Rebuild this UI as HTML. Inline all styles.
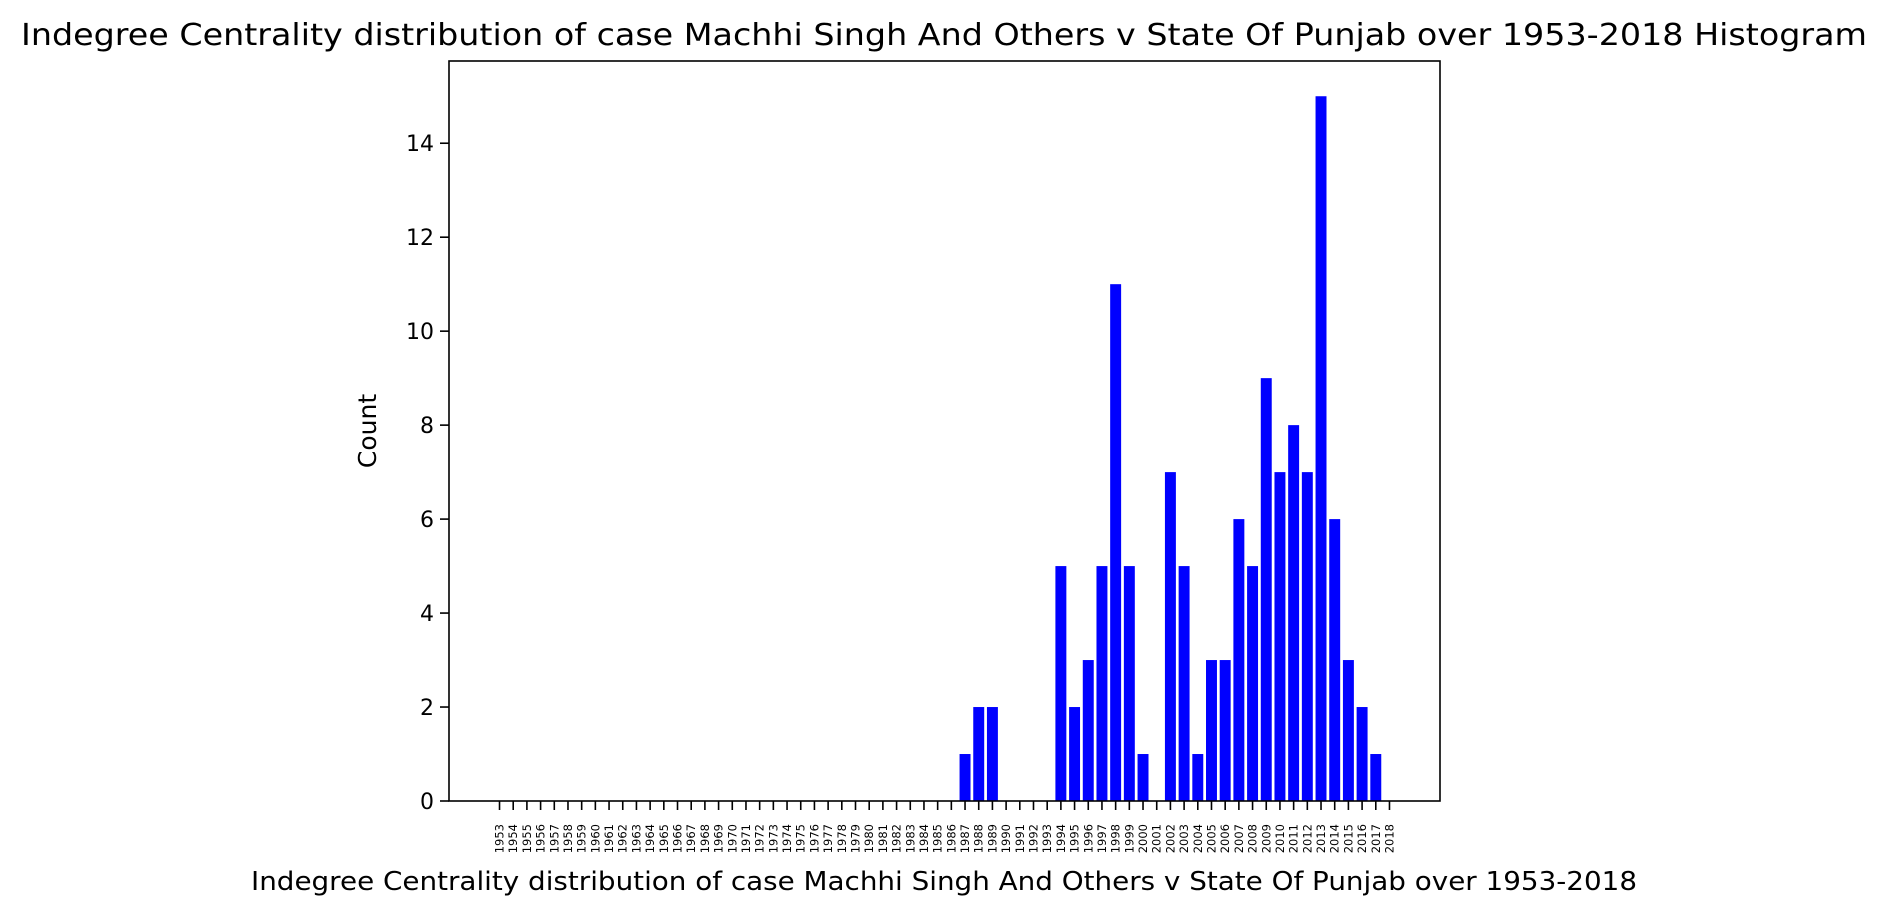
<!DOCTYPE html>
<html><head><meta charset="utf-8"><style>
body{margin:0;background:#fff;}
svg{display:block;font-family:"DejaVu Sans","Liberation Sans",sans-serif;}
</style></head><body>
<svg id="chart" width="1889" height="915" viewBox="0 0 1889 915" xmlns="http://www.w3.org/2000/svg">
<text x="944" y="45" font-size="30" text-anchor="middle" textLength="1846" lengthAdjust="spacingAndGlyphs">Indegree Centrality distribution of case Machhi Singh And Others v State Of Punjab over 1953-2018 Histogram</text>
<text x="944" y="890" font-size="26" text-anchor="middle" textLength="1386" lengthAdjust="spacingAndGlyphs">Indegree Centrality distribution of case Machhi Singh And Others v State Of Punjab over 1953-2018</text>
<text x="0" y="0" font-size="25" text-anchor="middle" transform="translate(376,431) rotate(-90)">Count</text>
<g id="bars"></g><g id="xticks"></g><g id="yticks"></g>
<rect x="449" y="61" width="991" height="740" fill="none" stroke="#000" stroke-width="1.6"/>
</svg>
<script>
const years = [];
for (let y = 1953; y <= 2018; y++) years.push(String(y));
const counts = [0,0,0,0,0,0,0,0,0,0,0,0,0,0,0,0,0,0,0,0,0,0,0,0,0,0,0,0,0,0,0,0,0,0,1,2,2,0,0,0,0,5,2,3,5,11,5,1,0,7,5,1,3,3,6,5,9,7,8,7,15,6,3,2,1,0];
const yTicks = [0,2,4,6,8,10,12,14];
const L=449,R=1440,T=61,B=801;
const xmin=-3.69,xmax=68.69,ymax=15.75;
const xs=i=>L+(i-xmin)/(xmax-xmin)*(R-L);
const ys=v=>B-v/ymax*(B-T);
const NS="http://www.w3.org/2000/svg";
const bw=(xs(0.8)-xs(0));
const gb=document.getElementById('bars'),gx=document.getElementById('xticks'),gy=document.getElementById('yticks');
counts.forEach((c,i)=>{
  if(c>0){
  const r=document.createElementNS(NS,'rect');
  
  
  r.setAttribute('x',xs(i)-bw/2);r.setAttribute('width',bw);
  r.setAttribute('y',ys(c));r.setAttribute('height',ys(0)-ys(c));
  r.setAttribute('fill','#0000ff');gb.appendChild(r);}
  const t=document.createElementNS(NS,'line');
  
  
  t.setAttribute('x1',xs(i));t.setAttribute('x2',xs(i));t.setAttribute('y1',B);t.setAttribute('y2',B+9);
  t.setAttribute('stroke','#000');t.setAttribute('stroke-width','1.6');gx.appendChild(t);
  const tx=document.createElementNS(NS,'text');
  
  
  tx.setAttribute('font-size','11.5');tx.setAttribute('text-anchor','end');
  tx.setAttribute('transform','translate('+(xs(i)+4)+',824) rotate(-90)');
  tx.textContent=years[i];gx.appendChild(tx);
});
yTicks.forEach(v=>{
  const t=document.createElementNS(NS,'line');
  
  
  t.setAttribute('x1',L-9);t.setAttribute('x2',L);t.setAttribute('y1',ys(v));t.setAttribute('y2',ys(v));
  t.setAttribute('stroke','#000');t.setAttribute('stroke-width','1.6');gy.appendChild(t);
  const tx=document.createElementNS(NS,'text');
  
  
  tx.setAttribute('font-size','22');tx.setAttribute('text-anchor','end');
  tx.setAttribute('x',L-15);tx.setAttribute('y',ys(v)+8);
  tx.textContent=v;gy.appendChild(tx);
});
</script>
</body></html>
